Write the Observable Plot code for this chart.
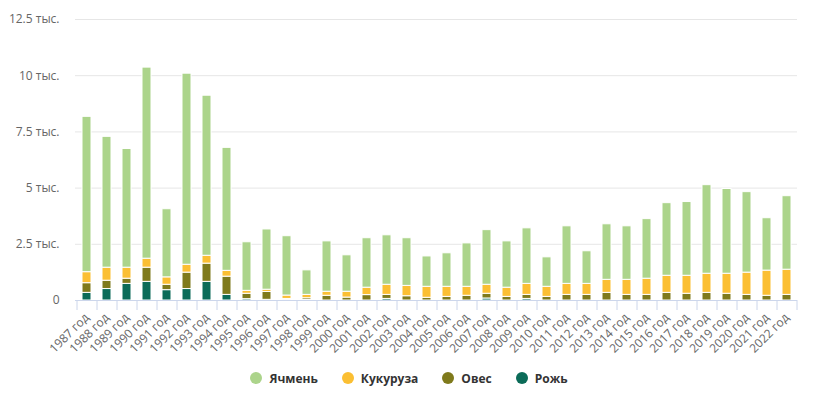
<!DOCTYPE html>
<html>
<head>
<meta charset="utf-8">
<script src="https://cdn.jsdelivr.net/npm/d3@7"></script>
<script src="https://cdn.jsdelivr.net/npm/@observablehq/plot@0.6"></script>
<style>
  html, body { margin: 0; padding: 0; background: #fff; }
  body { width: 818px; height: 397px; overflow: hidden; font-family: "Open Sans", "DejaVu Sans", sans-serif; }
  #legend { display: flex; justify-content: center; align-items: center; gap: 24px; height: 46px; margin-left: 0px; font-size: 12px; font-weight: bold; color: #333; }
  #legend .item { display: flex; align-items: center; gap: 7px; }
  #legend .dot { width: 12px; height: 12px; border-radius: 50%; display: inline-block; }
</style>
</head>
<body>
<div id="chart"></div>
<div id="legend"></div>
<script>
const years = [1987,1988,1989,1990,1991,1992,1993,1994,1995,1996,1997,1998,1999,2000,2001,2002,2003,2004,2005,2006,2007,2008,2009,2010,2011,2012,2013,2014,2015,2016,2017,2018,2019,2020,2021,2022];

const seriesNames = ["Ячмень", "Кукуруза", "Овес", "Рожь"];
const seriesColors = ["#acd48b", "#fbbf33", "#7f7a1c", "#0b6b58"];

// values in thousands
const rye    = [0.34,0.51,0.74,0.83,0.46,0.51,0.83,0.25,0.06,0.03,0.02,0.02,0,0,0,0.07,0,0,0,0,0.09,0,0.07,0,0,0,0,0,0,0,0,0,0,0,0,0];
const oats   = [0.43,0.37,0.23,0.63,0.24,0.73,0.81,0.81,0.24,0.35,0.05,0.08,0.21,0.13,0.24,0.18,0.19,0.12,0.16,0.21,0.21,0.16,0.18,0.16,0.25,0.25,0.34,0.25,0.25,0.34,0.30,0.34,0.30,0.25,0.21,0.25];
const corn   = [0.49,0.58,0.49,0.40,0.33,0.35,0.35,0.26,0.13,0.10,0.15,0.15,0.18,0.26,0.33,0.45,0.46,0.49,0.45,0.40,0.40,0.41,0.49,0.45,0.49,0.49,0.58,0.67,0.72,0.76,0.80,0.85,0.89,0.99,1.12,1.12];
const barley = [6.91,5.82,5.28,8.50,3.03,8.50,7.12,5.47,2.16,2.68,2.64,1.09,2.24,1.62,2.20,2.20,2.12,1.35,1.49,1.93,2.43,2.06,2.47,1.31,2.56,1.45,2.47,2.38,2.65,3.23,3.28,3.94,3.77,3.58,2.33,3.27];

const yTicks = [0, 2.5, 5, 7.5, 10, 12.5];
const yTickLabels = ["0", "2.5 тыс.", "5 тыс.", "7.5 тыс.", "10 тыс.", "12.5 тыс."];

const seriesValues = {"Ячмень": barley, "Кукуруза": corn, "Овес": oats, "Рожь": rye};
const stackOrder = ["Рожь", "Овес", "Кукуруза", "Ячмень"];

const data = stackOrder.flatMap(s => years.map((y, i) => ({year: y, series: s, value: seriesValues[s][i]})));

const chart = Plot.plot({
  width: 818,
  height: 355,
  marginLeft: 75,
  marginRight: 21,
  marginTop: 19,
  marginBottom: 55,
  style: {fontFamily: '"Open Sans", "DejaVu Sans", sans-serif', fontSize: "12px", color: "#666", background: "#fff"},
  x: {domain: years, paddingInner: 0.55, paddingOuter: 0.275, label: null},
  y: {domain: [0, 12.5], label: null},
  color: {domain: seriesNames, range: seriesColors},
  marks: [
    Plot.gridY(yTicks, {stroke: "#e6e6e6", strokeOpacity: 1}),
    Plot.axisY(yTicks, {tickSize: 0, tickPadding: 16, tickFormat: (d) => yTickLabels[yTicks.indexOf(d)], fill: "#666", fontSize: 12}),
    Plot.barY(data, Plot.stackY({order: stackOrder}, {x: "year", y: "value", fill: "series", stroke: "#fff", strokeWidth: 1})),
    Plot.ruleY([0], {stroke: "#ccd6eb"}),
    Plot.axisX({tickSize: 10, tickFormat: () => "", dx: -10, stroke: "#ccd6eb"}),
    Plot.axisX([years[years.length - 1]], {tickSize: 10, tickFormat: () => "", dx: 10, stroke: "#ccd6eb"}),
    Plot.axisX({tickSize: 0, tickPadding: 15, tickRotate: -45, tickFormat: d => d + " год", fill: "#666", fontSize: 12})
  ]
});
document.getElementById("chart").appendChild(chart);

const legend = document.getElementById("legend");
seriesNames.forEach((s, i) => {
  const item = document.createElement("div");
  item.className = "item";
  const dot = document.createElement("span");
  dot.className = "dot";
  dot.style.background = seriesColors[i];
  const label = document.createElement("span");
  label.textContent = s;
  item.appendChild(dot);
  item.appendChild(label);
  legend.appendChild(item);
});
</script>
</body>
</html>
